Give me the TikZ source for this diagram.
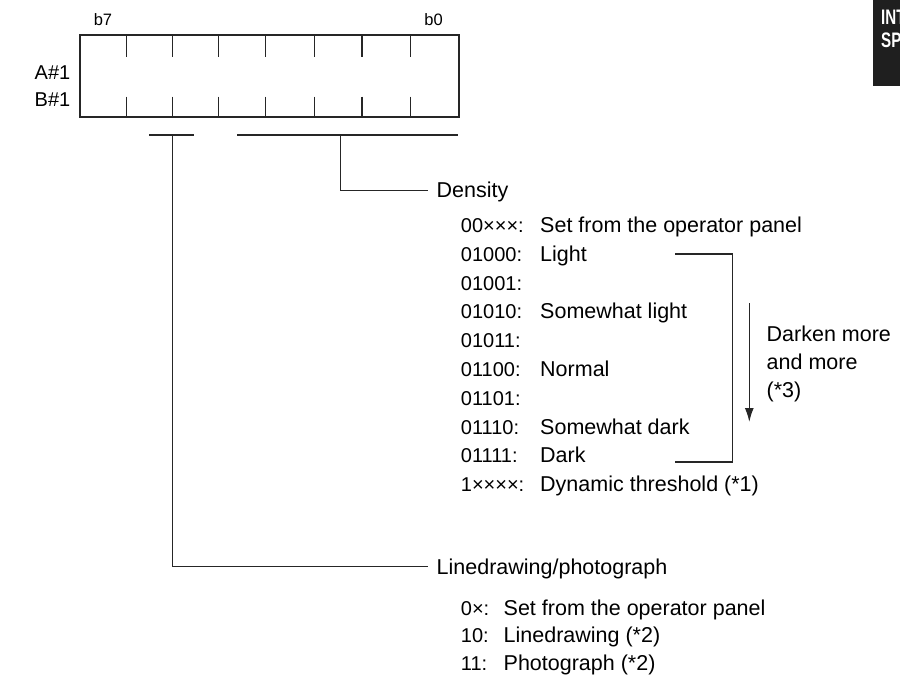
\documentclass[tikz,border=0pt]{standalone}
\usepackage{fontspec}
\setmainfont{Liberation Sans}
\usetikzlibrary{arrows.meta}
\begin{document}
\begin{tikzpicture}[x=1pt,y=-1pt,
  ln/.style={line width=1.4pt, draw=black!85},
  txt/.style={anchor=base west, inner sep=0pt, font=\fontsize{21.5}{25}\selectfont},
  code/.style={anchor=base west, inner sep=0pt, font=\fontsize{20}{24}\selectfont},
  bitlbl/.style={anchor=base, inner sep=0pt, font=\fontsize{16.5}{19}\selectfont},
  reglbl/.style={anchor=base, inner sep=0pt, font=\fontsize{20}{24}\selectfont},
  tab/.style={anchor=base west, inner sep=0pt, text=white, font=\fontsize{21}{24}\selectfont\bfseries}
]
\useasboundingbox (0,0) rectangle (900,679);

% register box
\node[ln, draw, minimum width=379pt, minimum height=82pt, inner sep=0pt, anchor=north west] (reg) at (79.3,34.3) {};
\foreach \x in {126.3,172.3,218.7,265.7,314.3,362,410.7}{
  \draw[ln] (\x,34.3) -- (\x,56.7);
  \draw[ln] (\x,96.7) -- (\x,116.3);
}
\node[bitlbl] (b7) at (103,26) {b7};
\node[bitlbl] (b0) at (433.5,26) {b0};
\node[reglbl] (a1) at (52.5,79.5) {A\#1};
\node[reglbl] (b1) at (52.5,107) {B\#1};

% field bars
\draw[ln] (149.3,135) -- (193.7,135);
\coordinate (lpf) at (172.3,135);
\draw[ln] (237,135) -- (458.3,135);
\coordinate (dnf) at (340.7,135);

% Density
\node[txt] (dens) at (436.5,198) {Density};
\coordinate (densend) at (427.5,190.5);
\draw[ln] (dnf) |- (densend);

\node[code] (c0) at (460.7,232.5) {00×××:};
\node[txt]  (d0) at (540,232.5) {Set from the operator panel};
\node[code] (c1) at (460.7,261.3) {01000:};
\node[txt]  (d1) at (540,261.3) {Light};
\node[code] (c2) at (460.7,290.1) {01001:};
\node[code] (c3) at (460.7,318.9) {01010:};
\node[txt]  (d3) at (540,318.9) {Somewhat light};
\node[code] (c4) at (460.7,347.7) {01011:};
\node[code] (c5) at (460.7,376.5) {01100:};
\node[txt]  (d5) at (540,376.5) {Normal};
\node[code] (c6) at (460.7,405.3) {01101:};
\node[code] (c7) at (460.7,434.1) {01110:};
\node[txt]  (d7) at (540,434.1) {Somewhat dark};
\node[code] (c8) at (460.7,462.9) {01111:};
\node[txt]  (d8) at (540,462.9) {Dark};
\node[code] (c9) at (460.7,491.7) {1××××:};
\node[txt]  (d9) at (540,491.7) {Dynamic threshold (*1)};

% bracket and arrow
\coordinate (bl1) at (675,254);
\coordinate (br1) at (732.3,254);
\coordinate (br2) at (732.3,462);
\coordinate (bl2) at (675,462);
\draw[ln] (bl1) -- (br1) -- (br2) -- (bl2);
\coordinate (ar1) at (749.3,303);
\coordinate (ar2) at (749.3,422);
\draw[ln, -{Latex[length=14pt,width=9pt]}] (ar1) -- (ar2);
\node[txt] (dk1) at (766.5,341) {Darken more};
\node[txt] (dk2) at (766.5,369.5) {and more};
\node[txt] (dk3) at (766.5,397) {(*3)};

% Linedrawing/photograph
\node[txt] (lp) at (436.5,574) {Linedrawing/photograph};
\coordinate (lpend) at (427.5,566.7);
\draw[ln] (lpf) |- (lpend);

\node[code] (e0) at (460.7,615) {0×:};
\node[txt]  (f0) at (503.5,615) {Set from the operator panel};
\node[code] (e1) at (460.7,642.5) {10:};
\node[txt]  (f1) at (503.5,642.5) {Linedrawing (*2)};
\node[code] (e2) at (460.7,670) {11:};
\node[txt]  (f2) at (503.5,670) {Photograph (*2)};

% side tab
\fill[black!88] (873,0) rectangle (900,86);
\begin{scope}
\clip (873,0) rectangle (900,86);
\node[tab] (int) at (881,25) {\scalebox{0.72}[1]{INT}};
\node[tab] (sp) at (881,48) {\scalebox{0.72}[1]{SP}};
\end{scope}
\end{tikzpicture}
\end{document}
